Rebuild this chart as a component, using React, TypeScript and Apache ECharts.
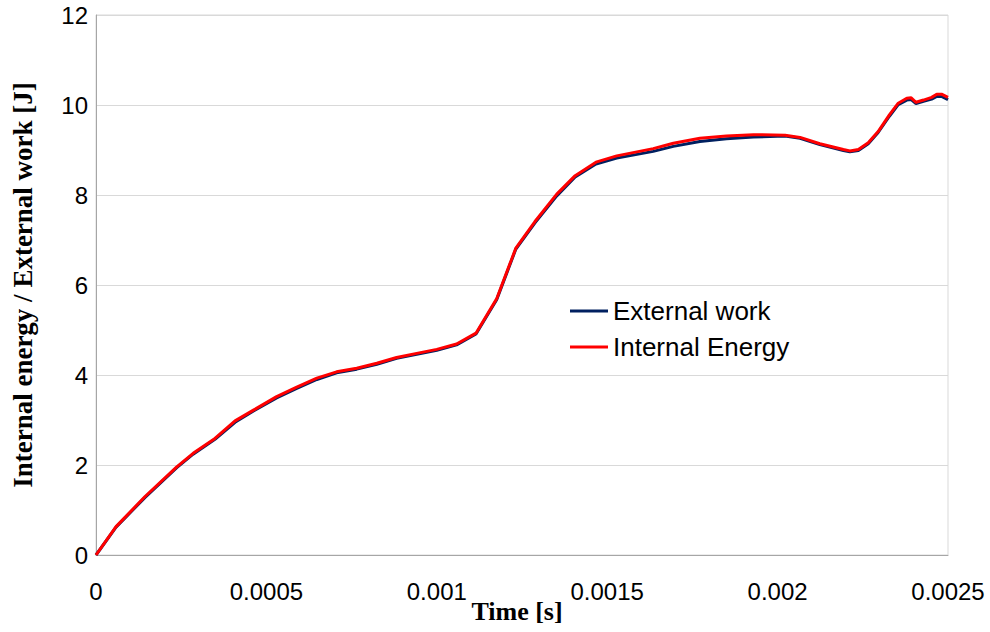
import React, { useEffect, useRef } from "react";
import * as echarts from "echarts";

const timeValues = [
  0, 0.0000588, 0.000144, 0.000237, 0.000285, 0.000349, 0.000408, 0.000462, 0.00053, 0.000589,
  0.000648, 0.000706, 0.000765, 0.000824, 0.000882, 0.000941, 0.001, 0.001058, 0.001115, 0.001176,
  0.001232, 0.001288, 0.001352, 0.001406, 0.001467, 0.001528, 0.001635, 0.001694, 0.001772, 0.00185,
  0.001929, 0.002022, 0.002066, 0.002124, 0.002193, 0.002212, 0.002237, 0.002266, 0.002295, 0.002328,
  0.002354, 0.002379, 0.002392, 0.002406, 0.002428, 0.002452, 0.002467, 0.002481, 0.0025,
];

const externalWork = [
  0, 0.62, 1.28, 1.94, 2.24, 2.57, 2.95, 3.2, 3.49, 3.7,
  3.9, 4.05, 4.13, 4.24, 4.37, 4.46, 4.55, 4.67, 4.91, 5.68,
  6.8, 7.38, 7.98, 8.4, 8.69, 8.82, 8.97, 9.08, 9.19, 9.25,
  9.29, 9.31, 9.26, 9.12, 8.99, 8.96, 8.99, 9.14, 9.39, 9.75,
  10.01, 10.11, 10.12, 10.03, 10.08, 10.13, 10.19, 10.19, 10.12,
];

const internalEnergy = [
  0, 0.63, 1.3, 1.96, 2.26, 2.59, 2.98, 3.22, 3.52, 3.73,
  3.93, 4.07, 4.15, 4.26, 4.39, 4.48, 4.57, 4.69, 4.93, 5.7,
  6.82, 7.41, 8.02, 8.43, 8.73, 8.87, 9.03, 9.15, 9.26, 9.31,
  9.34, 9.33, 9.28, 9.14, 9.01, 8.98, 9.01, 9.16, 9.41, 9.78,
  10.04, 10.15, 10.16, 10.06, 10.11, 10.17, 10.24, 10.24, 10.17,
];

const seriesNames = ["External work", "Internal Energy"];
const xTitle = "Time [s]";
const yTitle = "Internal energy / External work [J]";

export default function App() {
  const ref = useRef<HTMLDivElement>(null);

  useEffect(() => {
    if (!ref.current) return;
    const chart = echarts.init(ref.current, undefined, { renderer: "svg" });
    const pair = (arr: number[]) => timeValues.map((t, i) => [t, arr[i]]);
    const tickFont = { fontFamily: "Liberation Sans, Arial, sans-serif", fontSize: 24, color: "#000" };
    chart.setOption({
      animation: false,
      backgroundColor: "#fff",
      grid: {
        left: 96,
        right: 42,
        top: 15,
        bottom: 77,
        containLabel: false,
        outerBoundsMode: "none",
        show: true,
        borderColor: "#d9d9d9",
        borderWidth: 1,
        backgroundColor: "transparent",
      },
      legend: {
        data: seriesNames,
        orient: "vertical",
        left: 565,
        top: 293,
        icon: "rect",
        itemWidth: 38,
        itemHeight: 3,
        itemGap: 10,
        textStyle: {
          fontFamily: "Liberation Sans, Arial, sans-serif",
          fontSize: 26,
          lineHeight: 25,
          color: "#000",
        },
      },
      xAxis: {
        type: "value",
        min: 0,
        max: 0.0025,
        interval: 0.0005,
        name: xTitle,
        nameLocation: "middle",
        nameGap: 43,
        nameMoveOverlap: false,
        nameTextStyle: {
          fontFamily: "Liberation Serif, Times New Roman, serif",
          fontWeight: "bold",
          fontSize: 26,
          color: "#000",
          padding: [0, 10, 0, 0],
        },
        axisLine: { show: true, lineStyle: { color: "#a6a6a6", width: 1 } },
        axisTick: { show: false },
        splitLine: { show: false },
        axisLabel: {
          ...tickFont,
          margin: 24,
          formatter: (v: number) => String(parseFloat(v.toPrecision(6))),
        },
      },
      yAxis: {
        type: "value",
        min: 0,
        max: 12,
        interval: 2,
        name: yTitle,
        nameLocation: "middle",
        nameRotate: 90,
        nameGap: 60,
        nameMoveOverlap: false,
        nameTextStyle: {
          fontFamily: "Liberation Serif, Times New Roman, serif",
          fontWeight: "bold",
          fontSize: 27,
          color: "#000",
        },
        axisLine: { show: true, lineStyle: { color: "#a6a6a6", width: 1 } },
        axisTick: { show: false },
        splitLine: { show: true, lineStyle: { color: "#d9d9d9", width: 1 } },
        axisLabel: { ...tickFont, margin: 8 },
      },
      series: [
        {
          name: seriesNames[0],
          type: "line",
          data: pair(externalWork),
          symbol: "none",
          lineStyle: { color: "#002060", width: 3 },
          itemStyle: { color: "#002060" },
          z: 2,
        },
        {
          name: seriesNames[1],
          type: "line",
          data: pair(internalEnergy),
          symbol: "none",
          lineStyle: { color: "#ff0000", width: 3 },
          itemStyle: { color: "#ff0000" },
          z: 3,
        },
      ],
    });
    return () => chart.dispose();
  }, []);

  return (
    <div
      ref={ref}
      style={{ position: "fixed", left: 0, top: 0, width: 990, height: 632, background: "#fff" }}
    />
  );
}
